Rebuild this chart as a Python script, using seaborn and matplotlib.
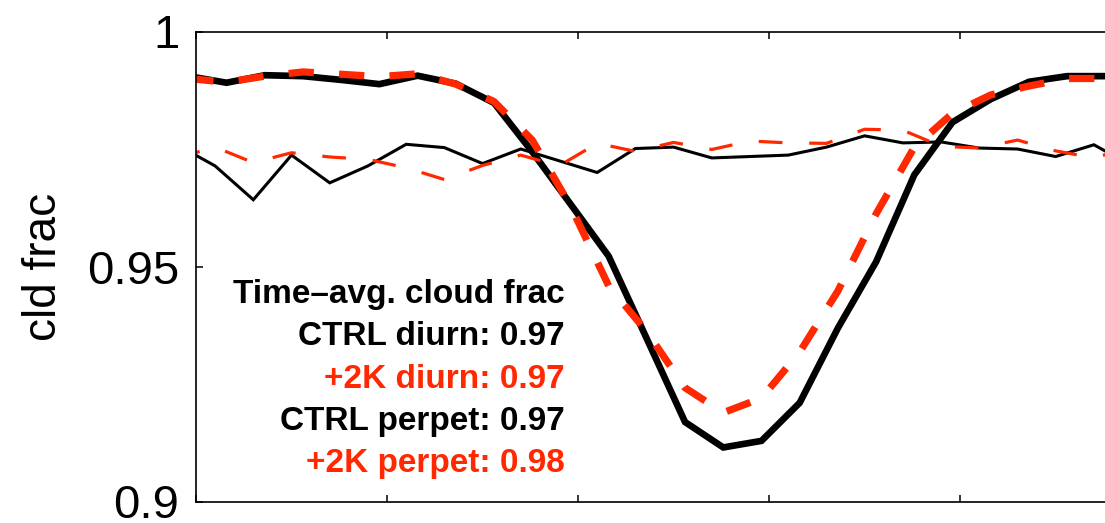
import numpy as np
import pandas as pd
import matplotlib
matplotlib.use("Agg")
import matplotlib.pyplot as plt
import seaborn as sns

# ---- data: hourly cloud fraction composites ----
hours = np.arange(24)
perpet_hours = hours + 0.5     # perpetual-insolation runs, bin centres
diurn_hours = hours + 0.8      # diurnal-cycle runs, local solar time

ctrl_diurn = [0.9891, 0.9907, 0.9905, 0.9897, 0.9888, 0.9906, 0.9889, 0.9848,
              0.9744, 0.9633, 0.9522, 0.9346, 0.9169, 0.9115, 0.9129, 0.9210,
              0.9369, 0.9510, 0.9695, 0.9807, 0.9856, 0.9893, 0.9905, 0.9905]
p2k_diurn = [0.9892, 0.9905, 0.9914, 0.9909, 0.9904, 0.9910, 0.9888, 0.9851,
             0.9769, 0.9629, 0.9459, 0.9361, 0.9242, 0.9189, 0.9220, 0.9318,
             0.9448, 0.9612, 0.9754, 0.9826, 0.9865, 0.9884, 0.9900, 0.9900]
ctrl_perpet = [0.9714, 0.9642, 0.9737, 0.9678, 0.9714, 0.9760, 0.9753, 0.9719,
               0.9750, 0.9725, 0.9700, 0.9751, 0.9754, 0.9731, 0.9734, 0.9737,
               0.9754, 0.9778, 0.9763, 0.9765, 0.9752, 0.9750, 0.9734, 0.9759]
p2k_perpet = [0.9754, 0.9721, 0.9742, 0.9733, 0.9728, 0.9710, 0.9685, 0.9715,
              0.9737, 0.9714, 0.9762, 0.9745, 0.9764, 0.9749, 0.9767, 0.9763,
              0.9762, 0.9792, 0.9790, 0.9756, 0.9752, 0.9769, 0.9746, 0.9731]

run_names = ["CTRL diurn", "+2K diurn", "CTRL perpet", "+2K perpet"]
time_avg = [0.97, 0.97, 0.97, 0.98]
summary_title = "Time\u2013avg. cloud frac"

y_ticks = [0.9, 0.95, 1.0]
y_tick_labels = ["0.9", "0.95", "1"]
x_ticks = [0, 5, 10, 15, 20]
y_label = "cld frac"

# ---- styling ----
RED = "#ff2800"
colors = {"CTRL diurn": "black", "+2K diurn": RED,
          "CTRL perpet": "black", "+2K perpet": RED}
widths = {"CTRL diurn": 4.8, "+2K diurn": 5.2,
          "CTRL perpet": 2.2, "+2K perpet": 2.3}
dash_map = {"CTRL diurn": "", "+2K diurn": (3.5, 3.5),
            "CTRL perpet": "", "+2K perpet": (7.4, 8.4)}
draw_order = ["CTRL diurn", "CTRL perpet", "+2K diurn", "+2K perpet"]


def periodic(t, v):
    """Pad a daily cycle with its neighbours so the curve wraps at 0/24 h."""
    t = np.asarray(t, float)
    v = np.asarray(v, float)
    return np.r_[t[-1] - 24, t, t[0] + 24], np.r_[v[-1], v, v[0]]


frames = []
for name, t, v in [("CTRL diurn", diurn_hours, ctrl_diurn),
                   ("+2K diurn", diurn_hours, p2k_diurn),
                   ("CTRL perpet", perpet_hours, ctrl_perpet),
                   ("+2K perpet", perpet_hours, p2k_perpet)]:
    tt, vv = periodic(t, v)
    frames.append(pd.DataFrame({"hour": tt, "frac": vv, "run": name}))
df = pd.concat(frames, ignore_index=True)

sns.set_style("white")
plt.rcParams["font.family"] = ["Liberation Sans", "DejaVu Sans"]
plt.rcParams["text.color"] = "black"
plt.rcParams["axes.labelcolor"] = "black"
plt.rcParams["xtick.color"] = "black"
plt.rcParams["ytick.color"] = "black"

W, H = 1105, 523
fig = plt.figure(figsize=(W / 100, H / 100), dpi=100)
ax = fig.add_axes([196 / W, 21.5 / H, 917 / W, 470 / H])

sns.lineplot(data=df, x="hour", y="frac", hue="run", size="run", style="run",
             hue_order=draw_order, size_order=draw_order, style_order=draw_order,
             palette=colors, sizes=widths, dashes=dash_map,
             estimator=None, sort=False, legend=False, ax=ax)
for ln in ax.get_lines():
    ln.set_dash_capstyle("butt")
    ln.set_solid_joinstyle("miter")

ax.set_xlim(0, 24)
ax.set_ylim(0.9, 1.0)
ax.set_xticks(x_ticks)
ax.set_xticklabels([])
ax.set_yticks(y_ticks)
ax.set_yticklabels(y_tick_labels)
ax.set_xlabel("")
ax.set_ylabel(y_label, fontsize=33, color="black")
ax.yaxis.set_label_coords(-0.142, 0.5)

for sp in ax.spines.values():
    sp.set_visible(True)
    sp.set_color("black")
    sp.set_linewidth(1.2)
ax.tick_params(axis="both", direction="in", length=5, width=1.1, color="black",
               labelcolor="black", top=True, right=True, bottom=True, left=True)
ax.tick_params(axis="y", labelsize=34, pad=12)
ax.tick_params(axis="x", labelbottom=False)

# time-average summary, right-aligned block in the lower left
lines = [(summary_title, "black")]
for name, val in zip(run_names, time_avg):
    lines.append((f"{name}: {val:.2f}", colors[name]))
baselines = [303, 345, 388, 430, 472]
for (txt, col), yb in zip(lines, baselines):
    ax.text((565 - 196) / 917, (501.5 - yb) / 470, txt, transform=ax.transAxes,
            ha="right", va="baseline", fontsize=24, fontweight="bold", color=col)

fig.savefig("out.png", dpi=100)
